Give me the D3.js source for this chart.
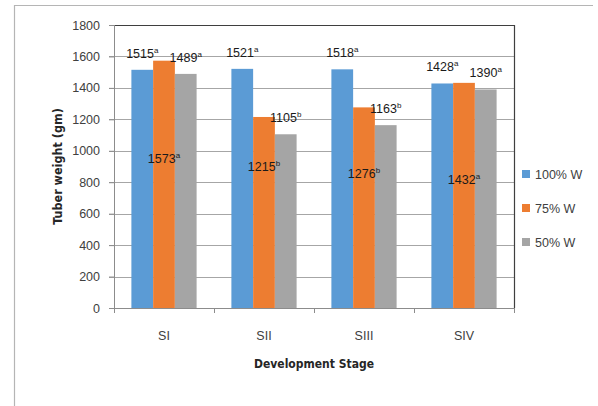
<!DOCTYPE html>
<html>
<head>
<meta charset="utf-8">
<script src="https://cdn.jsdelivr.net/npm/d3@7"></script>
<style>
  html, body { margin: 0; padding: 0; background: #fff; }
  svg { display: block; font-family: "Liberation Sans", Arial, sans-serif; }
</style>
</head>
<body>
<svg id="chart" width="598" height="406"></svg>
<script>
// Development stages and tuber weight (gm) per irrigation level
const stages = ["SI", "SII", "SIII", "SIV"];
const seriesNames = ["100% W", "75% W", "50% W"];
const w100 = [1515, 1521, 1518, 1428];
const w75 = [1573, 1215, 1276, 1432];
const w50 = [1489, 1105, 1163, 1390];
// significance letters shown beside each value
const sig100 = ["a", "a", "a", "a"];
const sig75 = ["a", "b", "b", "a"];
const sig50 = ["a", "b", "b", "a"];
const yTicks = [0, 200, 400, 600, 800, 1000, 1200, 1400, 1600, 1800];

const values = [w100, w75, w50];
const letters = [sig100, sig75, sig50];
const colors = ["#5B9BD5", "#ED7D31", "#A5A5A5"];

const svg = d3.select("#chart");
const plot = { left: 114, top: 25, right: 514, bottom: 308 };

// outer chart frame (top and left edges)
svg.append("path")
  .attr("d", "M14.5,406 V5.5 H593")
  .attr("fill", "none").attr("stroke", "#b5b5b5").attr("stroke-width", 1.2);

const x = d3.scaleBand().domain(stages).range([plot.left, plot.right]).paddingInner(0).paddingOuter(0);
const inner = d3.scaleBand().domain(seriesNames).range([0, x.bandwidth()]).paddingInner(0).paddingOuter(0.8);
const y = d3.scaleLinear().domain([0, 1800]).range([plot.bottom, plot.top]);

// gridlines with left tick stubs
svg.append("g").selectAll("line").data(yTicks.filter(t => t > 0 && t < 1800)).join("line")
  .attr("x1", plot.left - 5).attr("x2", plot.right)
  .attr("y1", d => Math.round(y(d)) + 0.5).attr("y2", d => Math.round(y(d)) + 0.5)
  .attr("stroke", "#a6a6a6").attr("stroke-width", 1);

// plot area border
svg.append("path")
  .attr("d", `M${plot.left - 5},${plot.top + 0.5} H${plot.right + 0.5} V${plot.bottom}`)
  .attr("fill", "none").attr("stroke", "#3f3f3f").attr("stroke-width", 1.2);

// bars
const groups = svg.append("g").selectAll("g").data(stages).join("g")
  .attr("transform", d => `translate(${x(d)},0)`);
groups.selectAll("rect")
  .data((s, i) => seriesNames.map((n, k) => ({ name: n, k, v: values[k][i] })))
  .join("rect")
  .attr("x", d => inner(d.name))
  .attr("width", inner.bandwidth())
  .attr("y", d => y(d.v))
  .attr("height", d => y(0) - y(d.v))
  .attr("fill", d => colors[d.k]);

// y axis
const yAxis = svg.append("g").attr("transform", `translate(${plot.left},0)`)
  .call(d3.axisLeft(y).tickValues(yTicks).tickFormat(d3.format("d")).tickSize(5).tickPadding(9));
yAxis.select(".domain").attr("stroke", "#8c8c8c").attr("d", `M0.5,${plot.top}V${plot.bottom}`);
yAxis.selectAll(".tick line").attr("stroke", "#8c8c8c");
yAxis.selectAll("text").attr("font-size", 12.5).attr("fill", "#404040")
  .attr("font-family", "'Liberation Sans', Arial, sans-serif");

// x axis with ticks at category boundaries
const xAxis = svg.append("g").attr("transform", `translate(0,${plot.bottom})`);
xAxis.append("line").attr("x1", plot.left).attr("x2", plot.right)
  .attr("y1", 0.5).attr("y2", 0.5).attr("stroke", "#8c8c8c");
xAxis.selectAll("line.tk").data([...stages.map(s => x(s)), plot.right]).join("line")
  .attr("class", "tk")
  .attr("x1", d => d + 0.5).attr("x2", d => d + 0.5)
  .attr("y1", 0).attr("y2", 5).attr("stroke", "#8c8c8c");
xAxis.selectAll("text").data(stages).join("text")
  .attr("x", d => x(d) + x.bandwidth() / 2)
  .attr("y", 32)
  .attr("text-anchor", "middle")
  .attr("font-size", 12.5).attr("fill", "#404040")
  .text(d => d);

// axis titles
svg.append("text")
  .attr("transform", `translate(62,${(plot.top + plot.bottom) / 2}) rotate(-90)`)
  .attr("text-anchor", "middle")
  .attr("font-family", "'DejaVu Sans Condensed', 'DejaVu Sans', sans-serif")
  .attr("font-weight", "bold").attr("font-size", 12.5).attr("fill", "#262626")
  .text("Tuber weight (gm)");
svg.append("text")
  .attr("x", 314).attr("y", 368)
  .attr("text-anchor", "middle")
  .attr("font-family", "'DejaVu Sans Condensed', 'DejaVu Sans', sans-serif")
  .attr("font-weight", "bold").attr("font-size", 12).attr("fill", "#262626")
  .text("Development Stage");

// value labels: 100% and 50% sit above their bars, 75% labels sit inside the orange bars
const insideLabelAt = [920, 870, 825, 790];
const labelData = [];
stages.forEach((s, i) => {
  seriesNames.forEach((n, k) => {
    const cx = x(s) + inner(n) + inner.bandwidth() / 2;
    const ly = k === 1 ? y(insideLabelAt[i]) : y(values[k][i]) - 12;
    labelData.push({ cx, ly, v: values[k][i], sig: letters[k][i] });
  });
});
const labels = svg.append("g").selectAll("text").data(labelData).join("text")
  .attr("x", d => d.cx).attr("y", d => d.ly)
  .attr("text-anchor", "middle")
  .attr("font-size", 12.5).attr("fill", "#1a1a1a");
labels.append("tspan").text(d => d.v);
labels.append("tspan").attr("dy", -5).attr("font-size", 8).text(d => d.sig);

// legend
const legend = svg.append("g").selectAll("g").data(seriesNames).join("g")
  .attr("transform", (d, i) => `translate(522,${174 + i * 34})`);
legend.append("rect").attr("x", 0).attr("y", -4).attr("width", 8).attr("height", 8)
  .attr("fill", (d, i) => colors[i]);
legend.append("text").attr("x", 13).attr("y", 4.5)
  .attr("font-size", 12.5).attr("fill", "#404040")
  .text(d => d);
</script>
</body>
</html>
